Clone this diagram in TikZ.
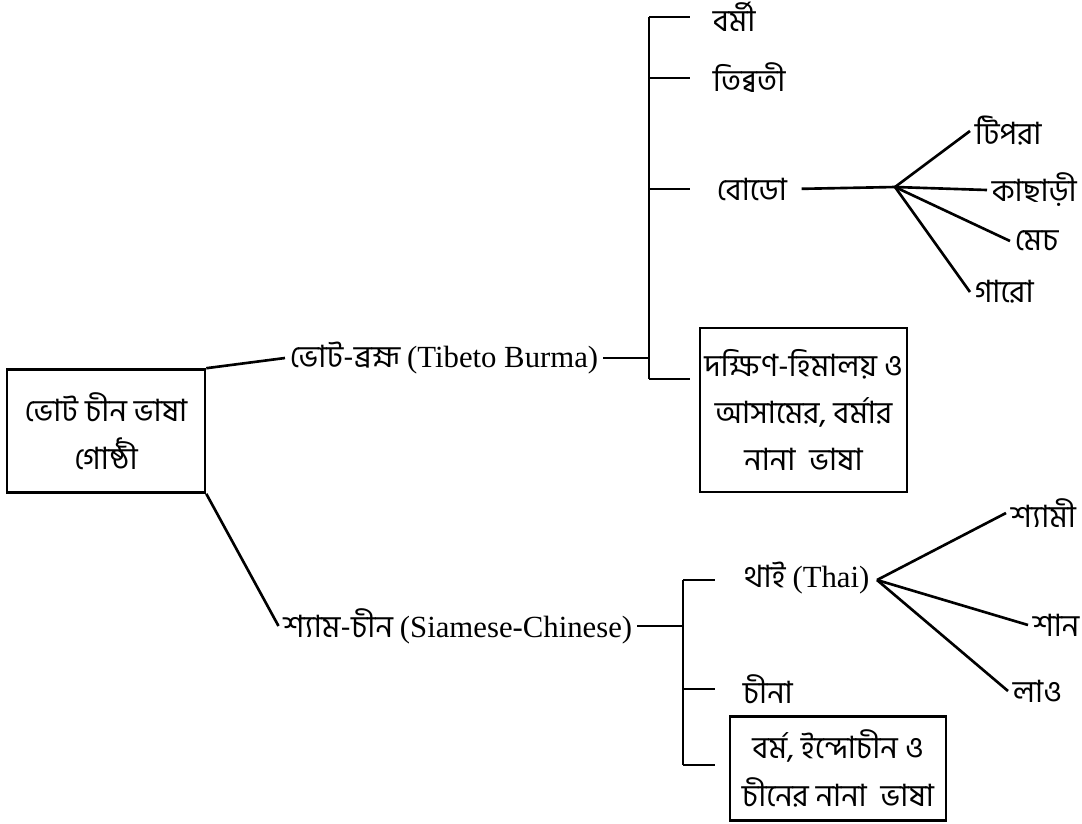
\documentclass[tikz,border=0pt]{standalone}
\usepackage{fontspec}
\setmainfont{Liberation Serif}
\newfontfamily\bn[Script=Bengali]{Hind Siliguri}
\usetikzlibrary{positioning}

\begin{document}
\begin{tikzpicture}[x=0.02cm, y=-0.02cm, line width=1.5pt,
      lang/.style={anchor=west, inner sep=2pt,
                   font=\fontsize{17.5}{21}\selectfont\bn},
      grp/.style={draw, align=center, inner sep=0pt,
                  font=\fontsize{17.5}{27}\selectfont\bn}
  ]
    \useasboundingbox (0,0) rectangle (1082,823);
    % root
    \node[grp, minimum width=3.96cm, minimum height=2.46cm] (root) at (106,431)
          {ভোট চীন ভাষা\\ গোষ্ঠী};
    \node[lang, anchor=east] (tb) at (603,358) {ভোট-ব্রহ্ম\ \rmfamily(Tibeto Burma)};
    \node[lang, anchor=east] (sc) at (637,626) {শ্যাম-চীন\ \rmfamily(Siamese-Chinese)};
    \draw (root.north east) -- (tb.west);
    \draw (root.south east) -- (sc.west);
    % Tibeto Burma
    \node[lang] (burmese) at (708,17)  {বর্মী};
    \node[lang] (tibetan) at (708,78)  {তিব্বতী};
    \node[lang] (bodo)    at (712,189) {বোডো};
    \node[grp, minimum width=4.14cm, minimum height=3.28cm] (southhim) at (803.5,410)
          {দক্ষিণ-হিমালয় ও\\ আসামের, বর্মার\\ নানা~ ভাষা};
    \coordinate (tbtop) at (649,17);
    \coordinate (tbbot) at (649,379);
    \draw (tb.east) -- (tb.east -| tbtop);
    \draw (tbtop) -- (tbbot);
    \foreach \n in {burmese,tibetan,bodo}
      \draw (tbtop |- \n.west) -- ++(41,0);
    \draw (tbbot) -- ++(41,0);
    % Bodo
    \node[lang] (tipra)   at (970,131) {টিপরা};
    \node[lang] (kachari) at (987,190) {কাছাড়ী};
    \node[lang] (mech)    at (1010,241) {মেচ};
    \node[lang] (garo)    at (970,292) {গারো};
    \coordinate (bodofan) at (895,187);
    \draw[shorten <=0.2cm] (bodo.east) -- (bodofan);
    \foreach \n in {tipra,kachari,mech,garo}
      \draw (bodofan) -- (\n.west);
    % Siamese-Chinese
    \node[lang] (thai)  at (739,578) {থাই \rmfamily(Thai)};
    \node[lang] (china) at (738,689) {চীনা};
    \node[grp, minimum width=4.32cm, minimum height=2.08cm] (indochina) at (838,768.5)
          {বর্ম, ইন্দোচীন ও\\ চীনের নানা~ ভাষা};
    \coordinate (sctop) at (683,580);
    \coordinate (scbot) at (683,765);
    \draw (sc.east) -- (sc.east -| sctop);
    \draw (sctop) -- (scbot);
    \draw (sctop) -- ++(32,0);
    \draw (sctop |- china.west) -- ++(32,0);
    \draw (scbot) -- ++(32,0);
    % Thai
    \node[lang] (shyami) at (1006,513) {শ্যামী};
    \node[lang] (shan)   at (1028,625) {শান};
    \node[lang] (lao)    at (1008,691) {লাও};
    \coordinate (thaifan) at (877,580);
    \foreach \n in {shyami,shan,lao}
      \draw (thaifan) -- (\n.west);
  \end{tikzpicture}
\end{document}
